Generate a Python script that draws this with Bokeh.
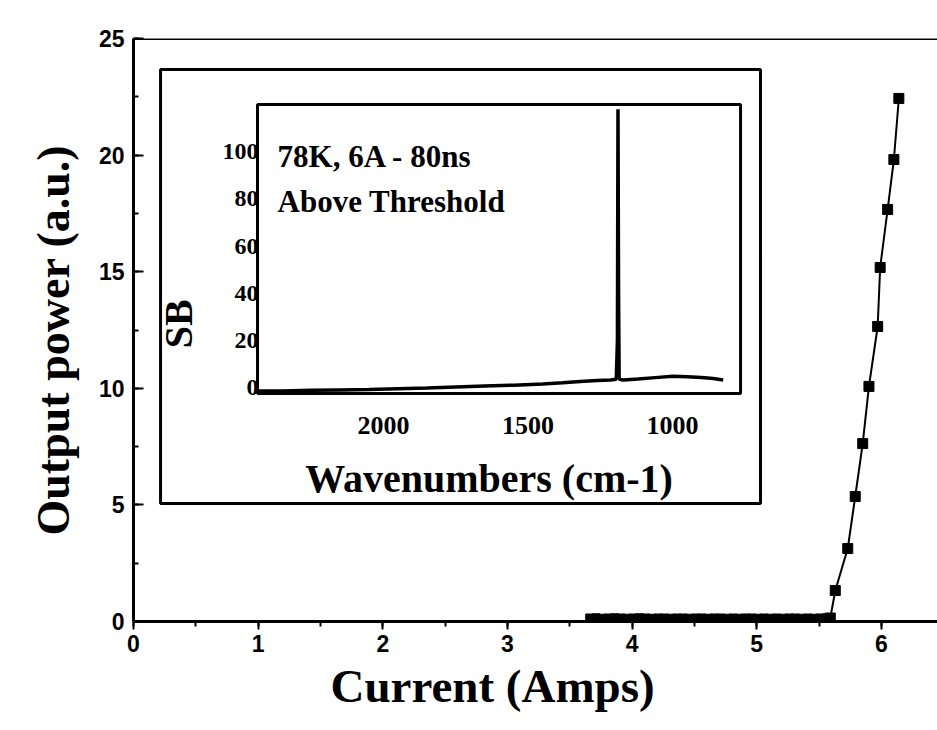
from bokeh.plotting import figure
from bokeh.models import Range1d, SingleIntervalTicker, Span, Title
from bokeh.embed import file_html
from bokeh.resources import INLINE
from bokeh.core.properties import value
import math

# ---------------- data ----------------
# main L-I curve: below threshold (dense points near zero)
current_below = [3.66, 3.71, 3.76, 3.81, 3.86, 3.91, 3.96, 4.01, 4.06, 4.11,
                 4.16, 4.21, 4.26, 4.31, 4.36, 4.41, 4.46, 4.51, 4.56, 4.61,
                 4.66, 4.71, 4.76, 4.81, 4.86, 4.91, 4.96, 5.01, 5.06, 5.11,
                 5.16, 5.21, 5.26, 5.31, 5.36, 5.41, 5.46, 5.51, 5.56]
power_below = [0.15, 0.16, 0.14, 0.15, 0.16, 0.15, 0.14, 0.15, 0.16, 0.15,
               0.14, 0.15, 0.15, 0.14, 0.15, 0.15, 0.14, 0.15, 0.15, 0.14,
               0.15, 0.15, 0.14, 0.15, 0.14, 0.15, 0.15, 0.14, 0.15, 0.14,
               0.15, 0.14, 0.15, 0.15, 0.14, 0.15, 0.14, 0.15, 0.16]
# above threshold
current_above = [5.59, 5.63, 5.73, 5.79, 5.85, 5.90, 5.97, 5.99, 6.05, 6.10, 6.14]
power_above = [0.15, 1.33, 3.13, 5.36, 7.63, 10.08, 12.65, 15.18, 17.67, 19.81, 22.43]

# inset spectrum (wavenumber cm-1, SB)
wavenumber = [2436, 2350, 2250, 2150, 2050, 1950, 1850, 1750, 1650, 1550,
              1450, 1380, 1320, 1260, 1215, 1195, 1191, 1189, 1187, 1185,
              1182, 1170, 1120, 1060, 1000, 950, 900, 860, 825]
sb = [-1.5, -1.5, -1.2, -1.0, -0.8, -0.5, -0.2, 0.2, 0.6, 1.0,
      1.5, 2.0, 2.6, 3.0, 3.2, 3.5, 20.0, 118.0, 40.0, 4.0,
      3.4, 3.2, 3.6, 4.2, 4.8, 4.6, 4.3, 3.8, 3.2]

inset_x_ticks = [2000, 1500, 1000]
inset_x_labels = ["2000", "1500", "1000"]
inset_y_ticks = [0, 20, 40, 60, 80, 100]
inset_y_labels = ["0", "20", "40", "60", "80", "100"]

# ---------------- layout constants ----------------
MAIN_X = (0.0, 6.45)
MAIN_Y = (0.0, 25.0)
# inset outer box in main-axis units
BOX = dict(left=0.217, right=5.03, bottom=5.06, top=23.67)
# inset plotting frame in main-axis units
IF_L, IF_R, IF_B, IF_T = 0.995, 4.87, 9.78, 22.17
INSET_X = (2436.0, 765.0)   # reversed axis
INSET_Y = (-2.5, 120.0)

sx = (INSET_X[1] - INSET_X[0]) / (IF_R - IF_L)
x0 = INSET_X[0] - IF_L * sx
sy = (INSET_Y[1] - INSET_Y[0]) / (IF_T - IF_B)
y0 = INSET_Y[0] - IF_B * sy

SERIF = value("Liberation Serif")
SANS = "Liberation Sans"

p = figure(width=937, height=730, output_backend="svg", toolbar_location=None,
           x_range=Range1d(*MAIN_X), y_range=Range1d(*MAIN_Y),
           min_border_left=133, min_border_right=0, min_border_top=38,
           min_border_bottom=109)
p.extra_x_ranges = {"wn": Range1d(x0 + MAIN_X[0] * sx, x0 + MAIN_X[1] * sx)}
p.extra_y_ranges = {"sb": Range1d(y0 + MAIN_Y[0] * sy, y0 + MAIN_Y[1] * sy)}

p.outline_line_color = None
p.xgrid.visible = False
p.ygrid.visible = False
p.background_fill_color = "white"
p.border_fill_color = "white"

# axes
p.xaxis.ticker = SingleIntervalTicker(interval=1, num_minor_ticks=2)
p.yaxis.ticker = SingleIntervalTicker(interval=5, num_minor_ticks=2)
for ax in (p.xaxis[0], p.yaxis[0]):
    ax.axis_line_width = 3
    ax.axis_line_color = "black"
    ax.major_tick_line_width = 2
    ax.minor_tick_line_width = 2
    ax.major_tick_line_color = "black"
    ax.minor_tick_line_color = "black"
    ax.major_label_text_font = SANS
    ax.major_label_text_font_style = "bold"
    ax.major_label_text_font_size = "23px"
    ax.major_label_text_color = "black"

p.xaxis.major_tick_in = 0
p.xaxis.major_tick_out = 8
p.xaxis.minor_tick_in = 0
p.xaxis.minor_tick_out = 5
p.xaxis.major_label_standoff = 5

p.yaxis.major_tick_in = 10
p.yaxis.major_tick_out = 0
p.yaxis.minor_tick_in = 5
p.yaxis.minor_tick_out = 0
p.yaxis.major_label_standoff = 9

# axis titles (as side titles so they can be shifted along the axis)
p.add_layout(Title(text="Current (Amps)", align="left", offset=197, standoff=6,
                   text_font="Liberation Serif", text_font_style="bold",
                   text_font_size="47px", text_color="black"), "below")
p.add_layout(Title(text="Output power (a.u.)", align="left", offset=86, standoff=34,
                   text_font="Liberation Serif", text_font_style="bold",
                   text_font_size="46px", text_color="black"), "left")

# top border of the main frame
p.add_layout(Span(location=MAIN_Y[1], dimension="width", line_color="black", line_width=3))

# ---------------- main data ----------------
all_current = current_below + current_above
all_power = power_below + power_above
p.line(all_current, all_power, line_color="black", line_width=2)
p.scatter(current_below, power_below, marker="square", size=8, color="black")
p.scatter(current_above, power_above, marker="square", size=10, color="black")

# ---------------- inset ----------------
p.quad(left=BOX["left"], right=BOX["right"], bottom=BOX["bottom"], top=BOX["top"],
       fill_color="white", line_color="black", line_width=3)
p.quad(left=INSET_X[0], right=INSET_X[1], bottom=INSET_Y[0], top=INSET_Y[1],
       fill_color=None, line_color="black", line_width=3,
       x_range_name="wn", y_range_name="sb")
p.line(wavenumber, sb, line_color="black", line_width=3.5,
       x_range_name="wn", y_range_name="sb")

# inset tick labels
p.text(x=[INSET_X[0]] * len(inset_y_ticks), y=inset_y_ticks, text=inset_y_labels,
       x_range_name="wn", y_range_name="sb", text_align="right", text_baseline="middle",
       x_offset=1, text_font=SERIF, text_font_style="bold", text_font_size="24px",
       text_color="black")
p.text(x=inset_x_ticks, y=[INSET_Y[0]] * len(inset_x_ticks), text=inset_x_labels,
       x_range_name="wn", y_range_name="sb", text_align="center", text_baseline="middle",
       y_offset=32, text_font=SERIF, text_font_style="bold", text_font_size="26px",
       text_color="black")
# inset axis titles
p.text(x=[(INSET_X[0] + INSET_X[1]) / 2], y=[INSET_Y[0]], text=["Wavenumbers (cm-1)"],
       x_range_name="wn", y_range_name="sb", text_align="center", text_baseline="middle",
       x_offset=-10, y_offset=85, text_font=SERIF, text_font_style="bold",
       text_font_size="40px", text_color="black")
p.text(x=[INSET_X[0]], y=[27.0], text=["SB"], angle=math.pi / 2,
       x_range_name="wn", y_range_name="sb", text_align="center", text_baseline="middle",
       x_offset=-79, text_font=SERIF, text_font_style="bold",
       text_font_size="40px", text_color="black")
# annotation
p.text(x=[INSET_X[0], INSET_X[0]], y=[INSET_Y[1], INSET_Y[1]],
       text=["78K, 6A - 80ns", "Above Threshold"],
       x_range_name="wn", y_range_name="sb", text_align="left", text_baseline="alphabetic",
       x_offset=20, y_offset=[52, 97], text_font=SERIF, text_font_style="bold",
       text_font_size="31px", text_color="black")

open("out.html", "w").write(file_html(p, INLINE))
